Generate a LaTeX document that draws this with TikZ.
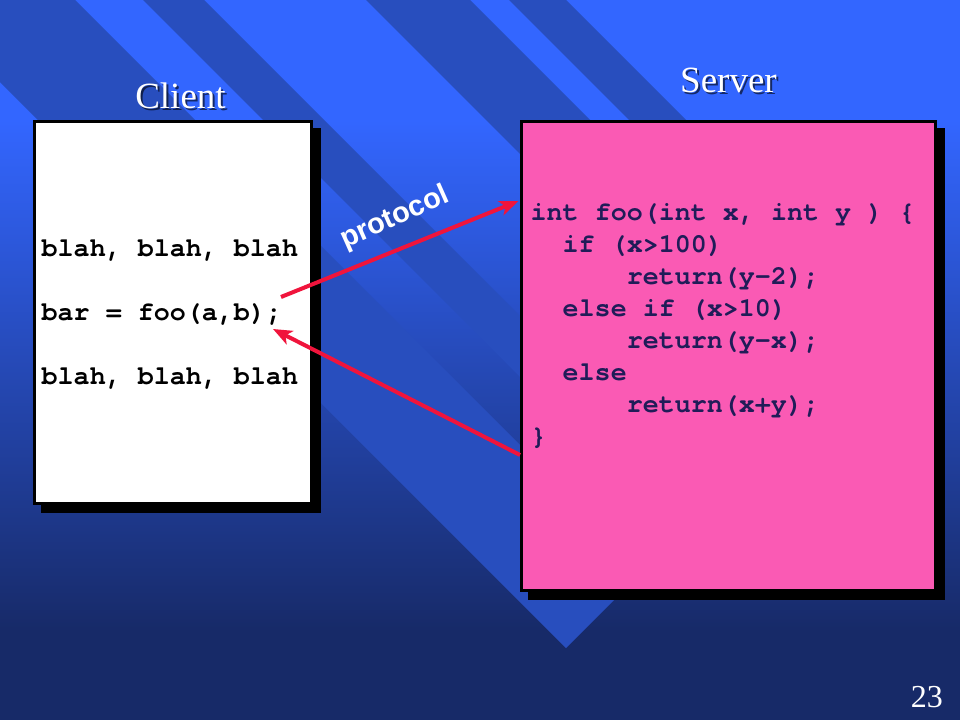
\documentclass[tikz,border=0pt]{standalone}
\usepackage{fontspec}
\setmainfont{Liberation Serif}
\newfontfamily\codefont{TeX Gyre Cursor}
\newfontfamily\labelfont{Liberation Sans}
\usetikzlibrary{arrows.meta,shadows}

\definecolor{bgtop}{RGB}{51,102,255}
\definecolor{bgbot}{RGB}{23,42,104}
\definecolor{stripecol}{RGB}{40,78,190}
\definecolor{pinkfill}{RGB}{250,90,180}
\definecolor{codenavy}{RGB}{32,28,88}
\definecolor{arrowred}{RGB}{240,20,60}

\begin{document}
\begin{tikzpicture}[x=1pt,y=-1pt,
  titletext/.style={font=\fontsize{37}{40}\selectfont, text=white, inner sep=0, anchor=base},
  titleshadow/.style={titletext, text=black, text opacity=0.6},
  panel/.style={draw=black, line width=3pt, inner sep=0, outer sep=0,
    drop shadow={shadow xshift=8pt, shadow yshift=-8pt, fill=black, draw=black, line width=3pt, opacity=1}},
  clientcode/.style={font=\codefont\bfseries\fontsize{26.7}{32}\selectfont, text=black, anchor=base west, inner sep=0},
  servercode/.style={clientcode, text=codenavy},
  redarrow/.style={draw=arrowred, line width=4pt, -{Stealth[length=19pt, width=15pt, inset=5pt]}},
  pagenum/.style={font=\fontsize{32}{34}\selectfont, text=white, inner sep=0, anchor=base east}
]
\useasboundingbox (0,0) rectangle (960,720);
% background gradient
\fill[bgtop] (0,0) rectangle (960,121);
\shade[top color=bgtop, bottom color=bgbot] (0,120) rectangle (960,631);
\fill[bgbot] (0,630) rectangle (960,720);
% diagonal stripes
\begin{scope}
\clip (0,0) rectangle (960,720);
\fill[stripecol] (-82,0) -- (75,0) -- (644.5,569.5) -- (566,648) -- cycle;
\fill[stripecol] (143,0) -- (204,0) -- (709,505) -- (678.5,535.5) -- cycle;
\fill[stripecol] (366,0) -- (470,0) -- (842,372) -- (790,424) -- cycle;
\fill[stripecol] (509,0) -- (566,0) -- (890,324) -- (861.5,352.5) -- cycle;
\end{scope}

% titles
\node[titleshadow] (clientshadow) at (182.5,110) {Client};
\node[titletext] (clienttitle) at (180.5,108) {Client};
\node[titleshadow] (servershadow) at (730.5,94) {Server};
\node[titletext] (servertitle) at (728.5,92) {Server};

% panels
\node[panel, fill=white, minimum width=277.5pt, minimum height=382pt] (client) at (172.75,312.5) {};
\node[panel, fill=pinkfill, minimum width=414pt, minimum height=469pt] (server) at (728.5,356) {};

% client code
\node[clientcode] (c1) at (41.5,256) {blah, blah, blah};
\node[clientcode] (c2) at (41.5,320) {bar = foo(a,b);};
\node[clientcode] (c3) at (41.5,384) {blah, blah, blah};

% server code
\node[servercode] (s1) at (530.5,220) {int foo(int x, int y ) \{};
\node[servercode] (s2) at (562.5,252) {if (x>100)};
\node[servercode] (s3) at (626.6,284) {return(y-2);};
\node[servercode] (s4) at (562.5,316) {else if (x>10)};
\node[servercode] (s5) at (626.6,348) {return(y-x);};
\node[servercode] (s6) at (562.5,380) {else};
\node[servercode] (s7) at (626.6,412) {return(x+y);};
\node[servercode] (s8) at (530.5,444) {\}};

% arrows
\coordinate (callfrom) at (281,297);
\coordinate (callto) at (518.5,201);
\coordinate (retfrom) at (520,455);
\coordinate (retto) at (273,329);
\draw[redarrow] (callfrom) -- (callto);
\draw[redarrow] (retfrom) -- (retto);

% protocol label
\node[font=\labelfont\bfseries\fontsize{29}{31}\selectfont, text=white, rotate=24, inner sep=0] (proto) at (395,218) {protocol};

% page number
\node[pagenum] (pnum) at (943,707) {23};
\end{tikzpicture}
\end{document}
